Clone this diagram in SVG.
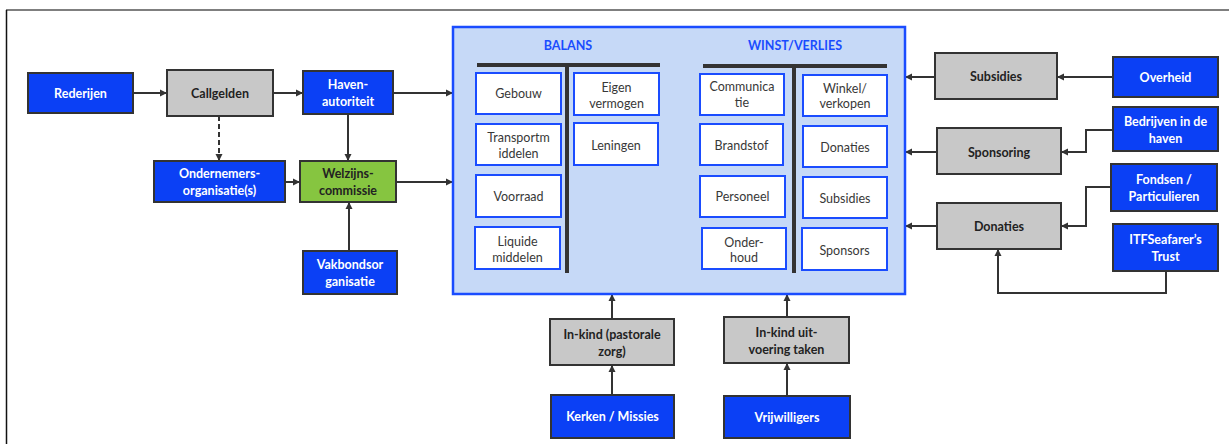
<svg xmlns="http://www.w3.org/2000/svg" width="1229" height="444" viewBox="0 0 1229 444">
<style>
.blue{fill:#0b40f5;stroke:#333;stroke-width:2}
.gray{fill:#c8c8c8;stroke:#333;stroke-width:2}
.green{fill:#86c540;stroke:#333;stroke-width:2}
.inner{fill:#fff;stroke:#1a4cff;stroke-width:2}
text{font-family:Lato,"Open Sans","Liberation Sans",sans-serif;text-anchor:middle;dominant-baseline:central}
.tw{fill:#fff;font-weight:bold;font-size:12.5px}
.td{fill:#222;font-weight:bold;font-size:12.5px}
.ti{fill:#383838;font-size:12.5px}
.th{fill:#1a4cff;font-weight:bold;font-size:12.5px}
.c{fill:none;stroke:#333;stroke-width:2;marker-end:url(#ah)}
.bar{stroke:#333;stroke-width:4;fill:none}
</style>
<defs>
<marker id="ah" markerUnits="userSpaceOnUse" markerWidth="8" markerHeight="8" refX="7" refY="4" orient="auto">
<path d="M0,0.5 L7,4 L0,7.5 z" fill="#333"/>
</marker>
</defs>
<rect x="0" y="0" width="1229" height="444" fill="#fff"/>
<path d="M6,10 H1229" stroke="#555" stroke-width="1.5" fill="none"/>
<path d="M6.5,10 V444" stroke="#111" stroke-width="1.5" fill="none"/>

<g id="connectors">
<path class="c" d="M133,93 H167"/>
<path class="c" d="M273,93 H303"/>
<path class="c" d="M393,93 H453"/>
<path class="c" d="M219,116 V161" stroke-dasharray="5,3"/>
<path class="c" d="M348,114 V161"/>
<path class="c" d="M285,182 H300"/>
<path class="c" d="M396,182 H453"/>
<path class="c" d="M349,251 V202"/>
<path class="c" d="M935,77 H905"/>
<path class="c" d="M1113,77 H1057"/>
<path class="c" d="M937,152 H905"/>
<path class="c" d="M1113,130 H1086 V152 H1061"/>
<path class="c" d="M937,226 H905"/>
<path class="c" d="M1111,187 H1086 V226 H1061"/>
<path class="c" d="M1166,271 V293 H998 V249"/>
<path class="c" d="M612,319 V294"/>
<path class="c" d="M612,395 V365"/>
<path class="c" d="M787,317 V294"/>
<path class="c" d="M787,396 V363"/>
</g>

<g id="rederijen"><rect class="blue" x="28" y="73" width="105" height="40"/><text class="tw" x="80.5" y="93">Rederijen</text></g>
<g id="callgelden"><rect class="gray" x="167" y="70" width="106" height="46"/><text class="td" x="220" y="93">Callgelden</text></g>
<g id="havenautoriteit"><rect class="blue" x="303" y="71" width="90" height="43"/><text class="tw" x="348" y="84">Haven-</text><text class="tw" x="348" y="101">autoriteit</text></g>
<g id="ondernemers"><rect class="blue" x="154" y="161" width="131" height="41"/><text class="tw" x="219.5" y="173">Ondernemers-</text><text class="tw" x="219.5" y="190">organisatie(s)</text></g>
<g id="welzijnscommissie"><rect class="green" x="300" y="161" width="96" height="41"/><text class="td" x="348" y="173">Welzijns-</text><text class="td" x="348" y="190">commissie</text></g>
<g id="vakbond"><rect class="blue" x="303" y="251" width="94" height="43"/><text class="tw" x="350" y="264">Vakbondsor</text><text class="tw" x="350" y="281">ganisatie</text></g>

<g id="balans-winstverlies">
<rect x="453" y="27" width="452" height="267" fill="#c6d9f7" stroke="#1a4cff" stroke-width="2.5"/>
<text class="th" x="568" y="45">BALANS</text>
<text class="th" x="795" y="45">WINST/VERLIES</text>
<path class="bar" d="M477,65 H660 M567,65 V273"/>
<path class="bar" d="M703,66 H887 M794,66 V273"/>
<rect class="inner" x="476" y="73" width="85" height="41"/><text class="ti" x="518.5" y="93.5">Gebouw</text>
<rect class="inner" x="476" y="124" width="85" height="41"/><text class="ti" x="518.5" y="137">Transportm</text><text class="ti" x="518.5" y="153">iddelen</text>
<rect class="inner" x="476" y="175" width="85" height="42"/><text class="ti" x="518.5" y="196">Voorraad</text>
<rect class="inner" x="475" y="227" width="85" height="42"/><text class="ti" x="517.5" y="241">Liquide</text><text class="ti" x="517.5" y="257">middelen</text>
<rect class="inner" x="574" y="73" width="85" height="42"/><text class="ti" x="616.5" y="87">Eigen</text><text class="ti" x="616.5" y="103">vermogen</text>
<rect class="inner" x="574" y="123" width="84" height="42"/><text class="ti" x="616" y="145">Leningen</text>
<rect class="inner" x="700" y="74" width="84" height="41"/><text class="ti" x="742" y="86">Communica</text><text class="ti" x="742" y="102">tie</text>
<rect class="inner" x="700" y="124" width="83" height="41"/><text class="ti" x="741.5" y="145">Brandstof</text>
<rect class="inner" x="700" y="176" width="85" height="41"/><text class="ti" x="742.5" y="196.5">Personeel</text>
<rect class="inner" x="702" y="228" width="84" height="41"/><text class="ti" x="744" y="242">Onder-</text><text class="ti" x="744" y="257">houd</text>
<rect class="inner" x="803" y="75" width="84" height="41"/><text class="ti" x="845" y="88">Winkel/</text><text class="ti" x="845" y="103">verkopen</text>
<rect class="inner" x="803" y="126" width="84" height="41"/><text class="ti" x="845" y="147">Donaties</text>
<rect class="inner" x="803" y="177" width="84" height="41"/><text class="ti" x="845" y="198">Subsidies</text>
<rect class="inner" x="802" y="228" width="85" height="42"/><text class="ti" x="844.5" y="250">Sponsors</text>
</g>

<g id="subsidies"><rect class="gray" x="935" y="53" width="122" height="46"/><text class="td" x="996" y="76">Subsidies</text></g>
<g id="overheid"><rect class="blue" x="1113" y="57" width="105" height="40"/><text class="tw" x="1165.5" y="77">Overheid</text></g>
<g id="sponsoring"><rect class="gray" x="937" y="128" width="124" height="46"/><text class="td" x="999" y="152">Sponsoring</text></g>
<g id="bedrijven"><rect class="blue" x="1113" y="107" width="105" height="44"/><text class="tw" x="1165.5" y="121">Bedrijven in de</text><text class="tw" x="1165.5" y="138">haven</text></g>
<g id="fondsen"><rect class="blue" x="1111" y="164" width="106" height="47"/><text class="tw" x="1164" y="179">Fondsen /</text><text class="tw" x="1164" y="196">Particulieren</text></g>
<g id="donaties"><rect class="gray" x="937" y="203" width="124" height="46"/><text class="td" x="999" y="226">Donaties</text></g>
<g id="itf"><rect class="blue" x="1113" y="224" width="105" height="47"/><text class="tw" x="1165.5" y="239">ITFSeafarer’s</text><text class="tw" x="1165.5" y="256">Trust</text></g>
<g id="inkind-pastorale"><rect class="gray" x="550" y="319" width="124" height="46"/><text class="td" x="612" y="334">In-kind (pastorale</text><text class="td" x="612" y="351">zorg)</text></g>
<g id="kerken"><rect class="blue" x="551" y="395" width="123" height="43"/><text class="tw" x="612.5" y="416.5">Kerken / Missies</text></g>
<g id="inkind-uitvoering"><rect class="gray" x="724" y="317" width="125" height="46"/><text class="td" x="786.5" y="332">In-kind uit-</text><text class="td" x="786.5" y="349">voering taken</text></g>
<g id="vrijwilligers"><rect class="blue" x="724" y="396" width="126" height="42"/><text class="tw" x="787" y="417">Vrijwilligers</text></g>
</svg>
